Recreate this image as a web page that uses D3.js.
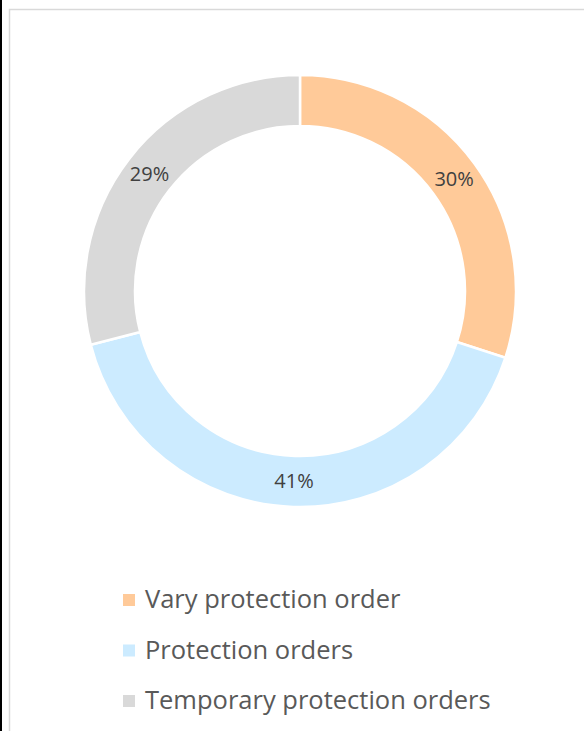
<!DOCTYPE html>
<html>
<head>
<meta charset="utf-8">
<script src="https://cdn.jsdelivr.net/npm/d3@7"></script>
<style>
body { margin: 0; background: #fff; }
svg { display: block; }
</style>
</head>
<body>
<div id="chart"></div>
<script>
var w = 584;
var h = 731;

var categories = ["Vary protection order", "Protection orders", "Temporary protection orders"];
var values = [30, 41, 29];
var labels = ["30%", "41%", "29%"];
var colors = ["#FFCA99", "#CCEBFF", "#D9D9D9"];

var cx = 300, cy = 291;
var outerR = 216, innerR = 165;

var svg = d3.select("#chart")
	.append("svg")
	.attr("width", w)
	.attr("height", h);

// page edges
svg.append("rect").attr("x", 0).attr("y", 0).attr("width", 2).attr("height", h).attr("fill", "#000");
svg.append("path")
	.attr("d", "M9.5," + h + "V9.5H" + w)
	.attr("fill", "none")
	.attr("stroke", "#D9D9D9")
	.attr("stroke-width", 1.5);

var pie = d3.pie().sort(null).value(function (d) { return d; });
var arc = d3.arc().innerRadius(innerR).outerRadius(outerR);
var labelArc = d3.arc().innerRadius((innerR + outerR) / 2).outerRadius((innerR + outerR) / 2);

var g = svg.append("g").attr("transform", "translate(" + cx + "," + cy + ")");
var arcs = pie(values);

g.selectAll("path.slice")
	.data(arcs)
	.enter()
	.append("path")
	.attr("class", "slice")
	.attr("d", arc)
	.attr("fill", function (d, i) { return colors[i]; })
	.attr("stroke", "#fff")
	.attr("stroke-width", 2.5);

g.selectAll("text.lbl")
	.data(arcs)
	.enter()
	.append("text")
	.attr("class", "lbl")
	.attr("transform", function (d) { return "translate(" + labelArc.centroid(d) + ")"; })
	.attr("text-anchor", "middle")
	.attr("dy", "0.35em")
	.attr("font-family", "'Open Sans', sans-serif")
	.attr("font-size", "20px")
	.attr("fill", "#404040")
	.text(function (d, i) { return labels[i]; });

// legend
var legend = svg.append("g");
var rows = legend.selectAll("g")
	.data(categories)
	.enter()
	.append("g")
	.attr("transform", function (d, i) { return "translate(123," + (600 + i * 50.5) + ")"; });

rows.append("rect")
	.attr("x", 0)
	.attr("y", -6)
	.attr("width", 12)
	.attr("height", 12)
	.attr("fill", function (d, i) { return colors[i]; });

rows.append("text")
	.attr("x", 22)
	.attr("dy", "0.33em")
	.attr("font-family", "'Open Sans', sans-serif")
	.attr("font-size", "25.5px")
	.attr("fill", "#595959")
	.text(function (d) { return d; });
</script>
</body>
</html>
